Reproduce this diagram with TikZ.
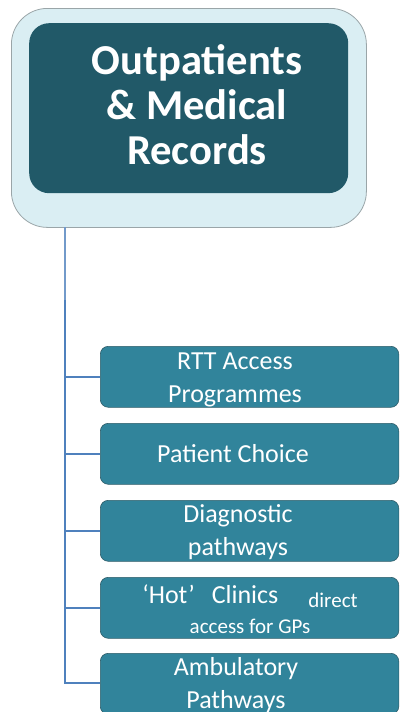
\documentclass[tikz,border=0pt]{standalone}
\usepackage{fontspec}
\setmainfont{Carlito}
\definecolor{outerfill}{HTML}{DAEEF3}
\definecolor{outerdraw}{HTML}{9AA5A8}
\definecolor{titlefill}{HTML}{215968}
\definecolor{itemfill}{HTML}{31849B}
\definecolor{itemdraw}{HTML}{2E5C68}
\definecolor{linkcol}{HTML}{4F81BD}
\begin{document}
\begin{tikzpicture}[x=1pt,y=-1pt,
  outerbox/.style={draw=outerdraw,line width=0.8pt,fill=outerfill,rounded corners=36pt,inner sep=0pt,anchor=north west},
  titlebox/.style={fill=titlefill,rounded corners=20pt,inner sep=0pt,anchor=north west},
  itembox/.style={draw=itemdraw,line width=0.6pt,fill=itemfill,rounded corners=8pt,inner sep=0pt,anchor=north west,minimum width=298.5pt,minimum height=61pt},
  titletext/.style={text=white,align=center,inner sep=0pt,font=\fontsize{42.6}{45}\selectfont\bfseries},
  itemtext/.style={text=white,align=center,inner sep=0pt,font=\fontsize{26}{33}\selectfont},
  smalltext/.style={text=white,inner sep=0pt,font=\fontsize{21}{25}\selectfont},
  link/.style={draw=linkcol,line width=1.8pt},
  linklight/.style={draw=linkcol!80,line width=1.3pt}]
\useasboundingbox (0,0) rectangle (399,712);
\clip (0,0) rectangle (399,712);
% title
\node[outerbox,minimum width=355pt,minimum height=219pt] (outer) at (11,8) {};
\node[titlebox,minimum width=319pt,minimum height=170pt] (title) at (29,23) {};
\node[titletext] (titlet) at (197,104.5) {Outpatients\\ \& Medical\\ Records};
% item boxes
\node[itembox] (rtt) at (100,346) {};
\node[itembox] (choice) at (100,423) {};
\node[itembox] (diag) at (100,500) {};
\node[itembox] (hot) at (100,577) {};
\node[itembox] (amb) at (100,653) {};
% texts
\node[itemtext] (rttt) at (235,379.4) {RTT Access\\ Programmes};
\node[itemtext,anchor=base] (choicet) at (233,462) {Patient Choice};
\node[itemtext] (diagt) at (238,531.7) {Diagnostic\\ pathways};
\node[itemtext,anchor=base] (hott) at (250,603) {‘Hot’\hspace{17pt}Clinics\hspace{30pt}\raisebox{-4pt}{\fontsize{21}{25}\selectfont direct}};
\node[smalltext,anchor=base] (hott2) at (250,633) {access for GPs};
\node[itemtext] (ambt) at (236,685) {Ambulatory\\ Pathways};
% connectors
\coordinate (top) at (65,227);
\coordinate (mid) at (65,300);
\coordinate (bot) at (65,684);
\draw[linklight] (top) -- (mid);
\draw[link] (mid) -- (bot);
\draw[link] (rtt.west -| bot) -- (rtt.west);
\draw[link] (choice.west -| bot) -- (choice.west);
\draw[link] (diag.west -| bot) -- (diag.west);
\draw[link] (hot.west -| bot) -- (hot.west);
\draw[link] (65,683) -- (100,683);
\end{tikzpicture}
\end{document}
